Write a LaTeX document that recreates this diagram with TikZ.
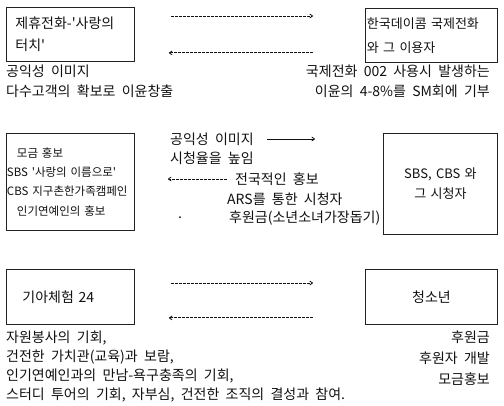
\documentclass[tikz,border=0pt]{standalone}
\usepackage{fontspec}
\newfontfamily\kr{Noto Sans CJK KR}[WordSpace=2]
\usepackage{tikz}
\usetikzlibrary{arrows.meta,positioning,calc}
\definecolor{Ink}{HTML}{111111}
\definecolor{Frame}{HTML}{222222}

\begin{document}
\begin{tikzpicture}[
  x=1pt,y=-1pt,
  box/.style={draw=Frame,line width=0.9pt,inner ysep=0pt,anchor=north west,text=Ink,font=\kr\fontsize{14}{22}\selectfont},
  note/.style={inner sep=0pt,text=Ink,font=\kr\fontsize{14}{20}\selectfont},
  darr/.style={-{To[length=3.5pt,width=4.5pt]},line width=0.8pt,dash pattern=on 2.6pt off 1.4pt,color=Ink},
  sarr/.style={-{To[length=3.5pt,width=4.5pt]},line width=0.8pt,color=Ink}
]
\useasboundingbox[fill=white] (0,0) rectangle (504,406);
\node[box,minimum width=128pt,minimum height=54pt,text width=110pt,inner xsep=9pt,align=left] (dial) at (6,7) {제휴전화-'사랑의\\터치'};
\node[box,minimum width=132pt,minimum height=54pt,text width=129pt,inner xsep=1.5pt,align=left,font=\kr\fontsize{13}{24}\selectfont] (dacom) at (365,8) {한국데이콤 국제전화\\와 그 이용자};
\node[note,anchor=north west,align=left] (gain) at (6,65) {공익성 이미지\\다수고객의 확보로 이윤창출};
\node[note,anchor=north east,align=right] (share) at (490,65) {국제전화 002 사용시 발생하는\\이윤의 4-8\%를 SM회에 기부};
\coordinate (r1) at ($(dial.north east)+(0,9)$);
\coordinate (l1) at ($(dial.south east)+(0,-9)$);
\draw[darr,shorten <=36pt,shorten >=52pt] (r1) -- (r1 -| dacom.west);
\draw[darr,shorten <=52pt,shorten >=34pt] (l1 -| dacom.west) -- (l1);
\node[box,minimum width=128pt,minimum height=97pt,text width=127pt,inner xsep=0.5pt,align=left,font=\kr\fontsize{11.5}{19.3}\selectfont] (fund) at (6,133) {\hspace{10pt}모금 홍보\\SBS '사랑의 이름으로'\\CBS 지구촌한가족캠페인\\\hspace{10pt}인기연예인의 홍보};
\node[box,minimum width=114pt,minimum height=101pt,text width=112pt,inner xsep=1pt,align=center,font=\kr\fontsize{13}{20}\selectfont] (tv) at (383,133) {SBS, CBS 와\\그 시청자};
\node[note,anchor=west] (image) at (170,139) {공익성 이미지};
\node[note,anchor=west] (rating) at (170,158) {시청율을 높임};
\node[note,anchor=west] (nation) at (235,179) {전국적인 홍보};
\node[note,anchor=west] (ars) at (227,199) {ARS를 통한 시청자};
\node[note,anchor=west] (dot) at (178,218) {.};
\node[note,anchor=west] (gift) at (229,218) {후원금(소년소녀가장돕기)};
\draw[sarr,shorten <=13pt,shorten >=68pt] (image.east) -- (image.east -| tv.west);
\draw[darr,shorten <=8pt,shorten >=33pt] (nation.west) -- (nation.west -| fund.east);
\node[box,minimum width=128pt,minimum height=55pt,text width=96pt,inner xsep=16pt,align=left] (famine) at (6,269) {기아체험 24};
\node[box,minimum width=132pt,minimum height=55pt,text width=130pt,inner xsep=1pt,align=center] (youth) at (365,269) {청소년};
\coordinate (r3) at ($(famine.north east)+(0,14)$);
\coordinate (l3) at ($(famine.south east)+(0,-7)$);
\draw[darr,shorten <=36pt,shorten >=52pt] (r3) -- (r3 -| youth.west);
\draw[darr,shorten <=52pt,shorten >=34pt] (l3 -| youth.west) -- (l3);
\node[note,anchor=north west,align=left,font=\kr\fontsize{14}{19}\selectfont] (merit) at (6,331) {자원봉사의 기회,\\건전한 가치관(교육)과 보람,\\인기연예인과의 만남-욕구충족의 기회,\\스터디 투어의 기회, 자부심, 건전한 조직의 결성과 참여.};
\node[note,anchor=north east,align=right,font=\kr\fontsize{14}{21}\selectfont] (back) at (490,331) {후원금\\후원자 개발\\모금홍보};
\end{tikzpicture}
\end{document}
